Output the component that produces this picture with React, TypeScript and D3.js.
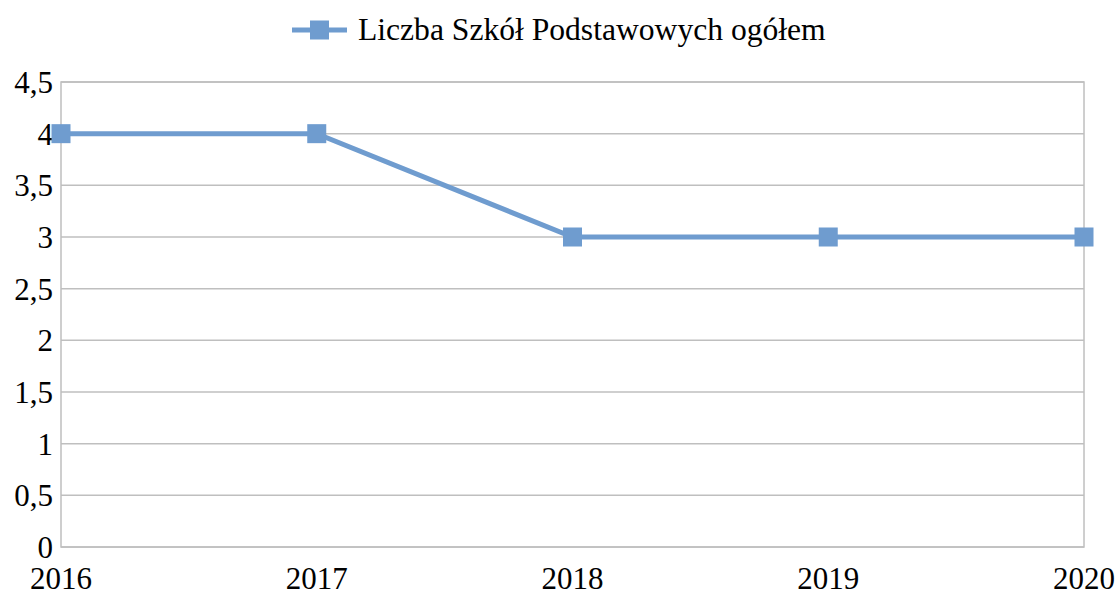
import React from 'react';
import * as d3 from 'd3';

const years = ['2016', '2017', '2018', '2019', '2020'];
const schools = [4, 4, 3, 3, 3];
const yTicks = [0, 0.5, 1, 1.5, 2, 2.5, 3, 3.5, 4, 4.5];
const seriesName = 'Liczba Szkół Podstawowych ogółem';

const W = 1118;
const H = 596;
const margin = { top: 82, right: 34, bottom: 49, left: 61 };
const lineColor = '#6f9ccf';
const gridColor = '#bfbfbf';
const font = '"Liberation Serif"';

const App = () => {
  const x = d3.scalePoint<string>()
    .domain(years)
    .range([margin.left, W - margin.right]);
  const y = d3.scaleLinear()
    .domain([0, 4.5])
    .range([H - margin.bottom, margin.top]);

  const line = d3.line<number>()
    .x((d, i) => x(years[i]) as number)
    .y(d => y(d));

  const fmt = (v: number) => String(v).replace('.', ',');
  const txt = { fontFamily: font, fontSize: 31, fill: '#000' };

  return (
    <svg width={W} height={H} style={{ position: 'absolute', left: 0, top: 0, background: '#fff' }}>
      {/* siatka */}
      {yTicks.map(t => (
        <line key={t} x1={margin.left} x2={W - margin.right} y1={y(t)} y2={y(t)}
          stroke={gridColor} strokeWidth={1.5} />
      ))}
      <rect x={margin.left} y={margin.top} width={W - margin.right - margin.left}
        height={H - margin.bottom - margin.top} fill="none" stroke={gridColor} strokeWidth={1.5} />

      {/* etykiety osi Y */}
      {yTicks.map(t => (
        <text key={t} x={margin.left - 8} y={y(t) + 11} textAnchor="end" style={txt}>{fmt(t)}</text>
      ))}

      {/* etykiety osi X */}
      {years.map(yr => (
        <text key={yr} x={x(yr)} y={589} textAnchor="middle" style={txt}>{yr}</text>
      ))}

      {/* seria */}
      <path d={line(schools) || ''} fill="none" stroke={lineColor} strokeWidth={5} />
      {schools.map((v, i) => (
        <rect key={i} x={(x(years[i]) as number) - 9.5} y={y(v) - 9.5} width={19} height={19}
          fill={lineColor} />
      ))}

      {/* legenda */}
      <line x1={292} x2={347} y1={30} y2={30} stroke={lineColor} strokeWidth={5} />
      <rect x={310} y={20.5} width={19} height={19} fill={lineColor} />
      <text x={358} y={40} style={{ ...txt, fontSize: 31.6 }}>{seriesName}</text>
    </svg>
  );
};

export default App;
